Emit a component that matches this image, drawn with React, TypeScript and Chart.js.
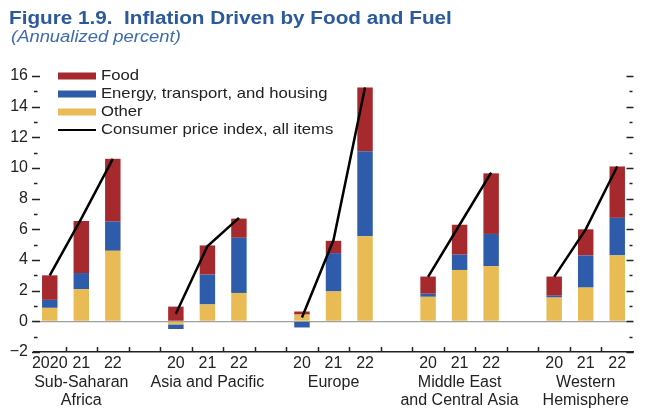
import React, { useEffect, useRef } from 'react';
import { Chart, registerables } from 'chart.js';

Chart.register(...registerables);

// ---------- data ----------
const TITLE = 'Figure 1.9.  Inflation Driven by Food and Fuel';
const SUBTITLE = '(Annualized percent)';

const regionNames: string[][] = [
  ['Sub-Saharan', 'Africa'],
  ['Asia and Pacific'],
  ['Europe'],
  ['Middle East', 'and Central Asia'],
  ['Western', 'Hemisphere'],
];
const years = ['20', '21', '22'];
const firstYearLabel = '2020';

// per region: 2020, 2021, 2022
const otherVals = [0.88, 2.1, 4.6, -0.2, 1.1, 1.85, 0.44, 1.95, 5.55, 1.6, 3.35, 3.6, 1.55, 2.2, 4.3];
const energyVals = [0.52, 1.05, 1.9, -0.3, 1.95, 3.6, -0.4, 2.5, 5.55, 0.2, 1.0, 2.1, 0.12, 2.1, 2.45];
const foodVals = [1.6, 3.4, 4.1, 0.96, 1.9, 1.25, 0.2, 0.8, 4.15, 1.12, 1.95, 3.95, 1.25, 1.7, 3.35];
const cpiVals = [3.0, 6.7, 10.6, 0.5, 4.9, 6.75, 0.25, 5.3, 15.25, 2.9, 6.3, 9.7, 2.9, 6.0, 10.1];

const yTickValues = [-2, 0, 2, 4, 6, 8, 10, 12, 14, 16];

const seriesNames = ['Food', 'Energy, transport, and housing', 'Other', 'Consumer price index, all items'];

const COLORS = {
  food: '#a6292d',
  energy: '#2f5caa',
  other: '#e8bb55',
  cpi: '#000000',
};

// ---------- build slots (3 years per region + a blank slot between regions) ----------
function toSlots(vals: number[]): (number | null)[] {
  const out: (number | null)[] = [];
  regionNames.forEach((_, r) => {
    if (r > 0) out.push(null);
    for (let k = 0; k < years.length; k++) out.push(vals[r * years.length + k]);
  });
  return out;
}

function buildLabels(): (string | string[])[] {
  const out: (string | string[])[] = [];
  regionNames.forEach((names, r) => {
    if (r > 0) out.push('');
    years.forEach((yr, k) => {
      const text = r === 0 && k === 0 ? firstYearLabel : yr;
      out.push(k === 1 ? [text, ...names] : text);
    });
  });
  return out;
}

const FONT = '"Liberation Sans", Arial, Helvetica, sans-serif';

function stretchedText(ctx: CanvasRenderingContext2D, text: string, x: number, y: number, sx: number) {
  ctx.save();
  ctx.translate(x, y);
  ctx.scale(sx, 1);
  ctx.fillText(text, 0, 0);
  ctx.restore();
}

const decorPlugin = {
  id: 'decor',
  afterDraw(chart: any) {
    const { ctx, chartArea, scales } = chart;
    const xs = scales.x;
    const ys = scales.y;
    ctx.save();

    // title + subtitle
    ctx.textAlign = 'left';
    ctx.textBaseline = 'middle';
    ctx.fillStyle = '#2b5a9c';
    ctx.font = `bold 18px ${FONT}`;
    stretchedText(ctx, TITLE, 9, 19, 1.15);
    ctx.fillStyle = '#3d69b2';
    ctx.font = `italic 16px ${FONT}`;
    stretchedText(ctx, SUBTITLE, 11, 38, 1.15);

    // y tick dashes, left and right
    ctx.strokeStyle = '#222';
    ctx.lineWidth = 1.5;
    const yMin = ys.min;
    const yMax = ys.max;
    for (let v = yMin; v <= yMax; v++) {
      const py = Math.round(ys.getPixelForValue(v)) + 0.5;
      const major = v % 2 === 0;
      ctx.beginPath();
      if (major) {
        ctx.moveTo(32, py);
        ctx.lineTo(40, py);
        ctx.moveTo(chartArea.right - 6.5, py);
        ctx.lineTo(chartArea.right + 0.5, py);
      } else {
        ctx.moveTo(34, py);
        ctx.lineTo(37.5, py);
        ctx.moveTo(chartArea.right - 3.5, py);
        ctx.lineTo(chartArea.right - 0.5, py);
      }
      ctx.stroke();
    }

    // x tick marks (inside, at slot boundaries)
    const n = chart.data.labels.length;
    for (let i = 0; i < n - 1; i++) {
      const px = Math.round((xs.getPixelForValue(i) + xs.getPixelForValue(i + 1)) / 2) + 0.5;
      ctx.beginPath();
      ctx.moveTo(px, chartArea.bottom);
      ctx.lineTo(px, chartArea.bottom - 5);
      ctx.stroke();
    }

    // legend
    const swatchColors = [COLORS.food, COLORS.energy, COLORS.other];
    const rowY = [76, 94, 112, 130];
    ctx.font = `15px ${FONT}`;
    ctx.textBaseline = 'middle';
    seriesNames.forEach((name, i) => {
      const yy = rowY[i];
      if (i < 3) {
        ctx.fillStyle = swatchColors[i];
        ctx.fillRect(58, yy - 3.5, 38, 7);
      } else {
        ctx.strokeStyle = '#000';
        ctx.lineWidth = 2;
        ctx.beginPath();
        ctx.moveTo(58, yy);
        ctx.lineTo(96, yy);
        ctx.stroke();
      }
      ctx.fillStyle = '#222';
      stretchedText(ctx, name, 101, yy, 1.11);
    });

    ctx.restore();
  },
};

export default function App() {
  const ref = useRef<HTMLCanvasElement | null>(null);

  useEffect(() => {
    if (!ref.current) return;
    const labels = buildLabels();
    const barCommon = {
      type: 'bar' as const,
      barPercentage: 0.49,
      categoryPercentage: 1,
      stack: 'bars',
      order: 1,
      borderWidth: 0,
    };
    const chart = new Chart(ref.current, {
      type: 'bar',
      data: {
        labels,
        datasets: [
          { ...barCommon, label: seriesNames[2], data: toSlots(otherVals), backgroundColor: COLORS.other },
          { ...barCommon, label: seriesNames[1], data: toSlots(energyVals), backgroundColor: COLORS.energy },
          { ...barCommon, label: seriesNames[0], data: toSlots(foodVals), backgroundColor: COLORS.food },
          {
            type: 'line' as const,
            label: seriesNames[3],
            data: toSlots(cpiVals),
            borderColor: COLORS.cpi,
            borderWidth: 2.5,
            pointRadius: 0,
            spanGaps: false,
            stack: 'cpi',
            order: 0,
            tension: 0,
          } as any,
        ],
      },
      options: {
        responsive: false,
        animation: false,
        devicePixelRatio: 1,
        layout: { padding: { top: 76, right: 12, left: 0, bottom: 0 } },
        plugins: {
          legend: { display: false },
          title: { display: false },
          tooltip: { enabled: false },
        },
        scales: {
          x: {
            stacked: true,
            offset: true,
            grid: { display: false, drawTicks: false },
            border: { display: true, color: '#222', width: 1.5 },
            ticks: {
              autoSkip: false,
              maxRotation: 0,
              minRotation: 0,
              padding: 3,
              color: '#222',
              font: { family: FONT, size: 16, lineHeight: 1.13 },
            },
            afterFit: (scale: any) => {
              scale.height = 61;
            },
          },
          y: {
            stacked: true,
            min: -2,
            max: 16,
            grid: {
              drawTicks: false,
              color: (c: any) => (c.tick && c.tick.value === 0 ? '#a0a0a0' : 'rgba(0,0,0,0)'),
              lineWidth: 1.2,
            },
            border: { display: false },
            afterBuildTicks: (scale: any) => {
              scale.ticks = yTickValues.map((v) => ({ value: v }));
            },
            ticks: {
              padding: 6,
              color: '#222',
              font: { family: FONT, size: 16 },
              callback: (v: any) => (Number(v) < 0 ? '\u2212' + Math.abs(Number(v)) : String(v)),
            },
            afterFit: (scale: any) => {
              scale.width = 34;
            },
          },
        },
      },
      plugins: [decorPlugin],
    } as any);
    return () => chart.destroy();
  }, []);

  return (
    <div style={{ position: 'absolute', left: 0, top: 0, width: 645, height: 413, background: '#fff' }}>
      <canvas ref={ref} width={645} height={413} style={{ width: 645, height: 413, display: 'block' }} />
    </div>
  );
}
